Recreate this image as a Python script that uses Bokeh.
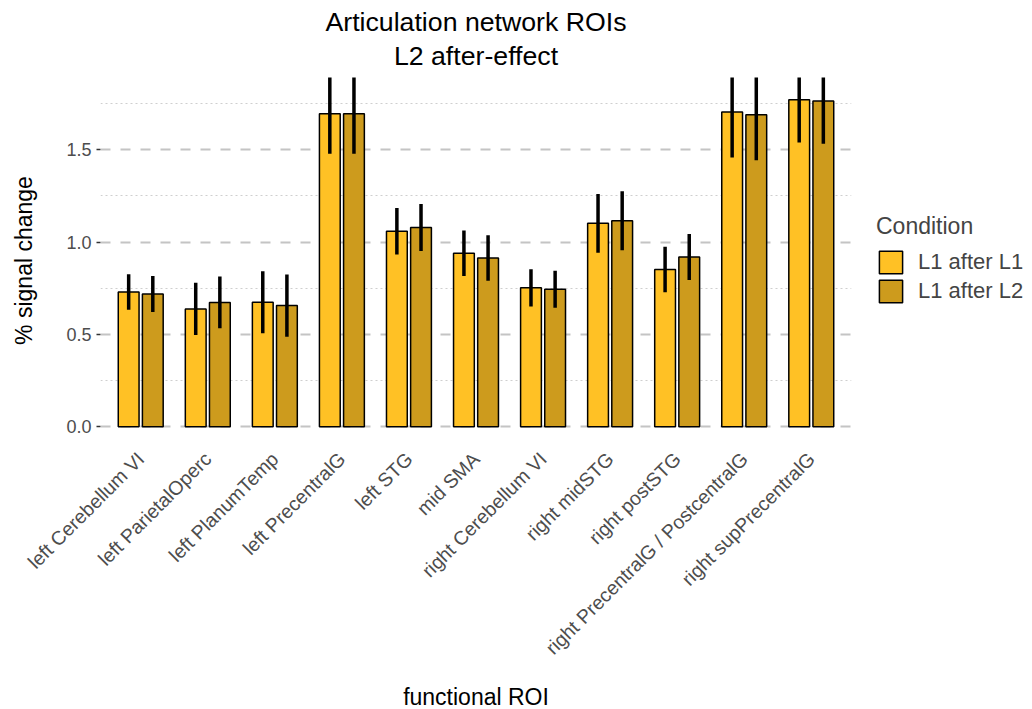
import math
from bokeh.plotting import figure
from bokeh.models import (FactorRange, ColumnDataSource, FixedTicker, NumeralTickFormatter,
                          Legend, LegendItem, Title, Range1d)
from bokeh.transform import dodge
from bokeh.embed import file_html
from bokeh.resources import INLINE

rois = ["left Cerebellum VI", "left ParietalOperc", "left PlanumTemp", "left PrecentralG",
        "left STG", "mid SMA", "right Cerebellum VI", "right midSTG", "right postSTG",
        "right PrecentralG / PostcentralG", "right supPrecentralG"]
conditions = ["L1 after L1", "L1 after L2"]
mean_l1 = [0.730, 0.638, 0.674, 1.694, 1.058, 0.939, 0.752, 1.101, 0.851, 1.703, 1.770]
se_l1 = [0.096, 0.141, 0.168, 0.217, 0.126, 0.123, 0.101, 0.159, 0.123, 0.246, 0.232]
mean_l2 = [0.719, 0.673, 0.656, 1.694, 1.079, 0.914, 0.745, 1.115, 0.919, 1.689, 1.763]
se_l2 = [0.097, 0.140, 0.168, 0.217, 0.127, 0.123, 0.100, 0.160, 0.124, 0.247, 0.231]
colors = ["#FFC125", "#CD9B1D"]
y_ticks = [0.0, 0.5, 1.0, 1.5]
y_minor = [0.25, 0.75, 1.25, 1.75]

FONT = "Liberation Sans"

src = ColumnDataSource(dict(
    roi=rois,
    m1=mean_l1, lo1=[m - s for m, s in zip(mean_l1, se_l1)], hi1=[m + s for m, s in zip(mean_l1, se_l1)],
    m2=mean_l2, lo2=[m - s for m, s in zip(mean_l2, se_l2)], hi2=[m + s for m, s in zip(mean_l2, se_l2)],
))

p = figure(x_range=FactorRange(factors=rois, range_padding=0.1, range_padding_units="absolute"),
           y_range=Range1d(-0.09, 1.89), frame_width=751, frame_height=366, title=None,
           output_backend="svg", toolbar_location=None,
           min_border_left=100, min_border_right=181, min_border_top=77, min_border_bottom=266)
p.outline_line_color = None
p.background_fill_color = "white"

off = 0.18
r1 = p.vbar(x=dodge("roi", -off, range=p.x_range), top="m1", width=0.31, source=src,
            fill_color=colors[0], line_color="black", line_width=1.5)
r2 = p.vbar(x=dodge("roi", off, range=p.x_range), top="m2", width=0.31, source=src,
            fill_color=colors[1], line_color="black", line_width=1.5)
p.segment(x0=dodge("roi", -off, range=p.x_range), x1=dodge("roi", -off, range=p.x_range),
          y0="lo1", y1="hi1", source=src, line_color="black", line_width=3.5)
p.segment(x0=dodge("roi", off, range=p.x_range), x1=dodge("roi", off, range=p.x_range),
          y0="lo2", y1="hi2", source=src, line_color="black", line_width=3.5)

# grid
p.xgrid.grid_line_color = None
p.yaxis.ticker = FixedTicker(ticks=y_ticks, minor_ticks=y_minor)
p.ygrid.grid_line_color = "#C4C4C4"
p.ygrid.grid_line_width = 2
p.ygrid.grid_line_dash = "10 10"
p.ygrid.minor_grid_line_color = "#CFCFCF"
p.ygrid.minor_grid_line_width = 1
p.ygrid.minor_grid_line_dash = "2 3"

# y axis
ya = p.yaxis[0]
ya.formatter = NumeralTickFormatter(format="0.0")
ya.axis_line_color = None
ya.major_tick_line_color = "#333333"
ya.major_tick_line_width = 1.5
ya.major_tick_out = 4
ya.major_tick_in = 0
ya.minor_tick_line_color = None
ya.major_label_text_font = FONT
ya.major_label_text_font_size = "18px"
ya.major_label_text_color = "#4D4D4D"
ya.major_label_standoff = 5
ya.axis_label = "% signal change"
ya.axis_label_text_font = FONT
ya.axis_label_text_font_size = "23px"
ya.axis_label_text_font_style = "normal"
ya.axis_label_text_color = "black"
ya.axis_label_standoff = 26

# x axis
xa = p.xaxis[0]
xa.axis_line_color = None
xa.major_tick_line_color = None
xa.major_label_orientation = math.pi / 4
xa.major_label_text_font = FONT
xa.major_label_text_font_size = "19.5px"
xa.major_label_text_color = "#4D4D4D"
xa.major_label_standoff = 6
xa.axis_label = "functional ROI"
xa.axis_label_text_font = FONT
xa.axis_label_text_font_size = "23px"
xa.axis_label_text_font_style = "normal"
xa.axis_label_text_color = "black"
xa.axis_label_standoff = 15

# titles (bottom line added first)
p.add_layout(Title(text="L2 after-effect", align="center", text_font=FONT, standoff=14,
                   text_font_size="26.7px", text_font_style="normal", text_color="black"), "above")
p.add_layout(Title(text="Articulation network ROIs", align="center", text_font=FONT, standoff=-10,
                   text_font_size="26.7px", text_font_style="normal", text_color="black"), "above")

legend = Legend(items=[LegendItem(label=conditions[0], renderers=[r1]),
                       LegendItem(label=conditions[1], renderers=[r2])],
                title="Condition", location=(25, 138),
                title_text_font=FONT, title_text_font_size="23px", title_text_font_style="normal",
                label_text_font=FONT, label_text_font_size="22px",
                glyph_width=29, glyph_height=28, spacing=1, padding=0, margin=0,
                label_standoff=13, title_standoff=8,
                border_line_color=None, background_fill_alpha=0)
p.add_layout(legend, "right")

open("out.html", "w").write(file_html(p, INLINE))
